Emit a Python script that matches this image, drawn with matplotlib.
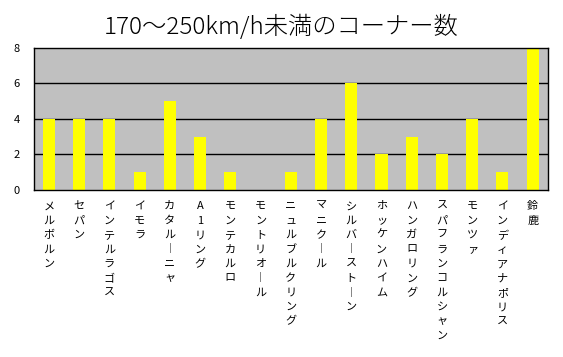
#corner count chart
import matplotlib
matplotlib.use("Agg")
import matplotlib.pyplot as plt

plt.rcParams['font.family'] = ['Noto Sans CJK JP', 'DejaVu Sans']

circuits = ['メルボルン', 'セパン', 'インテルラゴス', 'イモラ', 'カタルーニャ', 'A1リング',
            'モンテカルロ', 'モントリオール', 'ニュルブルクリング', 'マニクール',
            'シルバーストーン', 'ホッケンハイム', 'ハンガロリング', 'スパフランコルシャン',
            'モンツァ', 'インディアナポリス', '鈴鹿']
corners = [4, 4, 4, 1, 5, 3, 1, 0, 1, 4, 6, 2, 3, 2, 4, 1, 8]
yticks = [0, 2, 4, 6, 8]
title = '170～250km/h未満のコーナー数'


def vertical(s):
    #stack the characters like vertical writing, long vowel turns upright
    return '\n'.join('︱' if c == 'ー' else c for c in s)


fig = plt.figure(figsize=(5.63, 3.57), dpi=100)
ax = fig.add_axes([0.060, 0.468, 0.913, 0.398])
ax.set_facecolor('#c0c0c0')

x = list(range(len(circuits)))
ax.bar(x, corners, width=0.4, color='#ffff00', zorder=3)
ax.set_xlim(-0.5, len(circuits) - 0.5)
ax.set_ylim(0, 8)
ax.set_yticks(yticks)
ax.set_yticklabels([str(t) for t in yticks], fontsize=8)
ax.tick_params(axis='y', length=0, pad=10)
ax.set_xticks([])
for t in yticks[1:-1]:
    ax.axhline(t, color='black', linewidth=1, zorder=1)
for sp in ax.spines.values():
    sp.set_color('black')
    sp.set_linewidth(1)
    sp.set_zorder(4)

for i, name in enumerate(circuits):
    ax.text(i, -0.08, vertical(name), transform=ax.get_xaxis_transform(),
            ha='center', va='top', fontsize=8, linespacing=1.55)

fig.text(0.500, 0.922, title, ha='center', va='center', fontsize=17.5,
         style='italic', fontweight='light', family=['Noto Sans CJK JP', 'DejaVu Sans'])

plt.savefig('out.png', dpi=100)
